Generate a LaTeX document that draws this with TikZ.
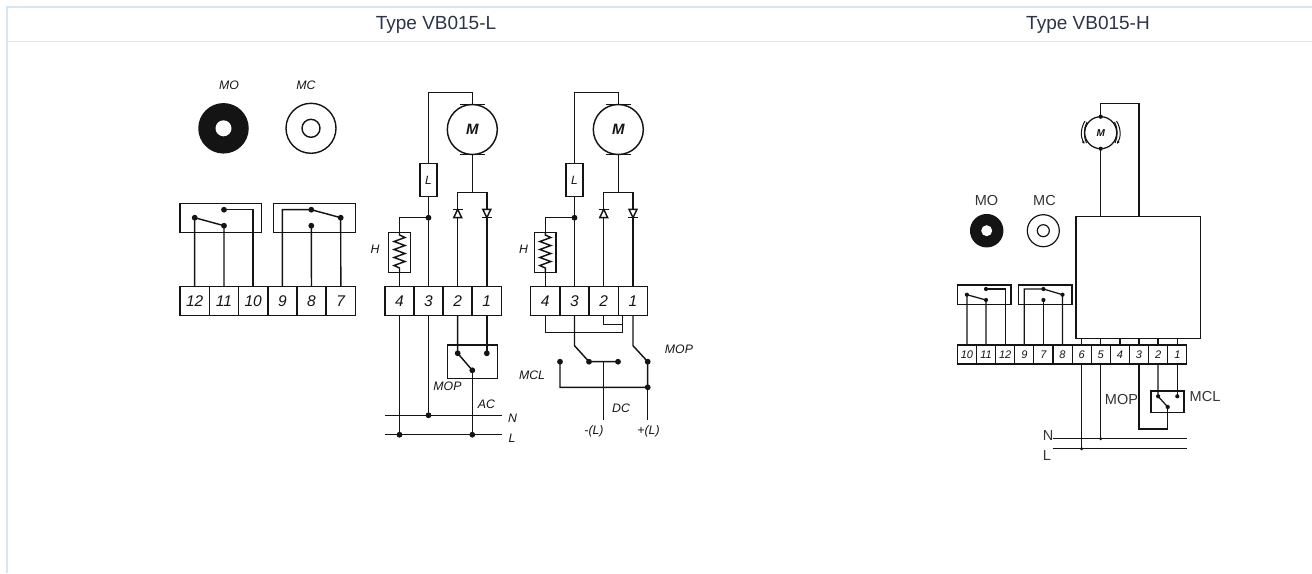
\documentclass[tikz,border=0pt]{standalone}
\usepackage{fontspec}
\usetikzlibrary{arrows.meta}
\setmainfont{Liberation Sans}
\definecolor{ink}{HTML}{141414}
\definecolor{grid}{HTML}{D6E6F3}
\definecolor{gridb}{HTML}{DDE8EE}
\definecolor{head}{HTML}{2B3547}
\definecolor{slabc}{HTML}{333333}
\tikzset{
  wire/.style={line width=1.45pt,draw=ink,line join=miter},
  thin wire/.style={line width=1.25pt,draw=ink},
  dot/.style={circle,fill=ink,inner sep=0pt,minimum size=5.8pt,outer sep=0pt},
  sdot/.style={circle,fill=ink,inner sep=0pt,minimum size=4.2pt,outer sep=0pt},
  term/.style={draw=ink,line width=1.45pt,minimum width=29.2pt,minimum height=29pt,inner sep=0pt,outer sep=0pt,font=\itshape\fontsize{15.5}{16}\selectfont,text=ink},
  sterm/.style={draw=ink,line width=1.1pt,minimum width=19.1pt,minimum height=19pt,inner sep=0pt,outer sep=0pt,font=\itshape\fontsize{11}{11}\selectfont,text=ink},
  box/.style={draw=ink,line width=1.45pt,inner sep=0pt,outer sep=0pt},
  lab/.style={text=ink,inner sep=0pt,font=\itshape\fontsize{12.3}{13}\selectfont},
  slab/.style={text=slabc,inner sep=0pt,font=\fontsize{14.5}{15}\selectfont},
  headlab/.style={text=head,inner sep=0pt,font=\fontsize{19}{20}\selectfont},
  diodeup/.pic={\draw[wire,fill=white] (0,-4.2)--(-4,4.2)--(4,4.2)--cycle; \draw[wire] (-5,-4.2)--(5,-4.2);},
  diodedn/.pic={\draw[wire,fill=white] (0,4.2)--(-4,-4.2)--(4,-4.2)--cycle; \draw[wire] (-5,4.2)--(5,4.2);},
  zig/.pic={\draw[wire] (0,-19)--(0,-17)--(5.5,-14.5)--(-5.5,-10.5)--(5.5,-6.5)--(-5.5,-2.5)--(5.5,1.5)--(-5.5,5.5)--(5.5,9.5)--(-5.5,13.5)--(0,16)--(0,21);},
}
\begin{document}
\begin{tikzpicture}[x=1pt,y=-1pt]
\useasboundingbox (0,0) rectangle (1312,573);
% table frame
\fill[grid] (6,6) rectangle (1312,8);
\fill[grid] (6,6) rectangle (8,573);
\fill[gridb] (8,41) rectangle (1312,42);
\node[headlab] (hl) at (436,25) {Type VB015-L};
\node[headlab] (hh) at (1088,25) {Type VB015-H};

% ---- switch symbols, left
\node[lab] (lmo) at (229,85) {MO};
\node[lab] (lmc) at (306,85) {MC};
\node[circle,fill=ink,minimum size=50.5pt,inner sep=0pt] (mo) at (223.5,128.3) {};
\node[circle,fill=white,minimum size=16pt,inner sep=0pt] (moh) at (223.5,128.3) {};
\node[circle,draw=ink,line width=1.4pt,minimum size=50pt,inner sep=0pt] (mc) at (311,128.3) {};
\node[circle,draw=ink,line width=1.4pt,minimum size=18pt,inner sep=0pt] (mci) at (311,128.3) {};

\node[box,minimum width=81.7pt,minimum height=29pt] (ba) at (220.8,217.8) {};
\node[box,minimum width=82pt,minimum height=29pt] (bb) at (314.7,217.8) {};
\foreach \n/\x in {12/194.7,11/224,10/253.2,9/282.4,8/311.5,7/340.8}
  \node[term] (a\n) at (\x,301.2) {\n};
\node[dot] (c12) at (194.7,217.7) {};
\node[dot] (c11) at (224,225.7) {};
\node[dot] (c10) at (224,209.7) {};
\node[dot] (c9) at (311.3,209.7) {};
\node[dot] (c8) at (311.3,225.7) {};
\node[dot] (c7) at (340.7,217.7) {};
\draw[wire] (a12.north)--(c12.center)--(c11.center)--(a11.north);
\draw[wire] (c10.center)-|(a10.north);
\draw[wire] (a9.north)|-(c9.center)--(c7.center)--(a7.north);
\draw[wire] (c8.center)--(a8.north);

% ---- AC circuit
\foreach \n/\x in {4/399.5,3/428.5,2/457.7,1/486.8}
  \node[term] (b\n) at (\x,301.2) {\n};
\node[circle,draw=ink,line width=1.45pt,minimum size=50pt,inner sep=0pt,outer sep=0pt,font=\itshape\bfseries\fontsize{15}{16}\selectfont,text=ink] (m1) at (472.3,129.5) {M};
\draw[wire] (460,104.7)--(485,104.7);
\draw[wire] (460,154.7)--(485,154.7);
\node[box,minimum width=17pt,minimum height=33.4pt,font=\itshape\fontsize{12}{13}\selectfont,text=ink] (l1) at (428.5,180) {L};
\node[box,minimum width=21.7pt,minimum height=40pt] (h1) at (399.5,252.3) {};
\pic at (399.5,252) {zig};
\node[dot] (j1) at (428.5,217.7) {};
\coordinate (tp1) at (472.3,92.7);
\coordinate (br1) at (472.3,192.7);
\draw[wire] (472.3,104.7)--(tp1)-|(l1.north);
\draw[wire] (l1.south)--(b3.north);
\draw[wire] (j1.center)-|(h1.north);
\draw[wire] (h1.south)--(b4.north);
\draw[wire] (m1.south)--(br1);
\draw[wire] (b2.north)|-(br1)-|(b1.north);
\pic at (457.7,213.5) {diodeup};
\pic at (486.8,213.5) {diodedn};
\node[lab] (lh1) at (375,249) {H};
% lower part
\node[box,minimum width=50pt,minimum height=33.7pt] (s1) at (472.3,361.8) {};
\node[dot] (d2) at (457.7,353.3) {};
\node[dot] (d1) at (486.8,353.3) {};
\node[dot] (d0) at (472.3,370.3) {};
\draw[wire] (b2.south)--(d2.center)--(d0.center);
\draw[wire] (b1.south)--(d1.center);
\coordinate (nl) at (385,415.3); \coordinate (nr) at (501.5,415.3);
\coordinate (ll) at (385,434.7); \coordinate (lr) at (501.5,434.7);
\draw[thin wire] (nl)--(nr);
\draw[thin wire] (ll)--(lr);
\node[dot] (jn) at (428.5,415.3) {};
\node[dot] (jl4) at (399.5,434.7) {};
\node[dot] (jl0) at (472.3,434.7) {};
\draw[wire] (b4.south)--(jl4.center);
\draw[wire] (b3.south)--(jn.center);
\draw[wire] (d0.center)--(jl0.center);
\node[lab] (lmop1) at (447.5,386.5) {MOP};
\node[lab] (lac) at (486.5,404) {AC};
\node[lab] (ln1) at (512.5,418) {N};
\node[lab] (ll1) at (512,438) {L};

% ---- DC circuit
\foreach \n/\x in {4/545.3,3/574.5,2/603.7,1/633}
  \node[term] (e\n) at (\x,301.2) {\n};
\node[circle,draw=ink,line width=1.45pt,minimum size=50pt,inner sep=0pt,outer sep=0pt,font=\itshape\bfseries\fontsize{15}{16}\selectfont,text=ink] (m2) at (618.3,129.5) {M};
\draw[wire] (605.7,104.7)--(630.7,104.7);
\draw[wire] (605.7,154.7)--(630.7,154.7);
\node[box,minimum width=16.7pt,minimum height=33.4pt,font=\itshape\fontsize{12}{13}\selectfont,text=ink] (l2) at (574.5,180) {L};
\node[box,minimum width=21.3pt,minimum height=40pt] (h2) at (545.3,252.3) {};
\pic at (545.3,252) {zig};
\node[dot] (j2) at (574.5,217.7) {};
\coordinate (tp2) at (618.3,92.7);
\coordinate (br2) at (618.3,192.7);
\draw[wire] (618.3,104.7)--(tp2)-|(l2.north);
\draw[wire] (l2.south)--(e3.north);
\draw[wire] (j2.center)-|(h2.north);
\draw[wire] (h2.south)--(e4.north);
\draw[wire] (m2.south)--(br2);
\draw[wire] (e2.north)|-(br2)-|(e1.north);
\pic at (603.7,213.5) {diodeup};
\pic at (633,213.5) {diodedn};
\node[lab] (lh2) at (523.5,249) {H};
% lower part
\coordinate (q1) at (622.3,315.7);
\coordinate (q2) at (622.3,332.7);
\coordinate (q3) at (622.3,324.7);
\draw[wire] (e4.south)|-(q2)--(q1);
\draw[wire] (e2.south)|-(q3);
\coordinate (k3) at (574.5,345.7);
\coordinate (k1) at (633,345.7);
\node[dot] (s3) at (589,361.7) {};
\node[dot] (s4) at (618,361.7) {};
\node[dot] (s5) at (560,361.7) {};
\node[dot] (s1a) at (647.7,361.7) {};
\node[dot] (s6) at (647.7,387.3) {};
\draw[wire] (e3.south)--(k3)--(s3.center)--(s4.center);
\draw[wire] (e1.south)--(k1)--(s1a.center)--(s6.center)--(s5.center |- s6.center)--(s5.center);
\coordinate (pm) at (603.7,361.7);
\coordinate (pme) at (603.7,420);
\coordinate (ppe) at (647.7,420);
\draw[wire] (pm)--(pme);
\draw[wire] (s6.center)--(ppe);
\node[lab] (lmop2) at (679,349.5) {MOP};
\node[lab] (lmcl) at (532,375) {MCL};
\node[lab] (ldc) at (621,408.5) {DC};
\node[lab] (lm) at (594,431) {-(L)};
\node[lab] (lp) at (648.5,431) {+(L)};

% ---- right diagram
\node[slab] (rmo) at (986.5,201) {MO};
\node[slab] (rmc) at (1044.5,201) {MC};
\node[circle,fill=ink,minimum size=33.5pt,inner sep=0pt] (mo2) at (986.7,230.7) {};
\node[circle,fill=white,minimum size=11pt,inner sep=0pt] (mo2h) at (986.7,230.7) {};
\node[circle,draw=ink,line width=1.2pt,minimum size=32pt,inner sep=0pt] (mc2) at (1043.3,230.7) {};
\node[circle,draw=ink,line width=1.2pt,minimum size=12pt,inner sep=0pt] (mc2i) at (1043.3,230.7) {};
\node[circle,draw=ink,line width=1.25pt,minimum size=32pt,inner sep=0pt,outer sep=0pt,font=\itshape\bfseries\fontsize{10}{10}\selectfont,text=ink] (m3) at (1100.7,132.7) {M};
\node[sdot] (mt) at (1100.7,116.7) {};
\node[sdot] (mb) at (1100.7,148.7) {};
\draw[thin wire,line width=1pt,-{Latex[length=3pt,width=3pt]}] (1085,121)..controls (1080.5,128) and (1080.5,137)..(1084.5,144);
\draw[thin wire,line width=1pt] (1087,122)..controls (1083.5,128) and (1083.5,137)..(1086.5,143);
\draw[thin wire,line width=1pt,-{Latex[length=3pt,width=3pt]}] (1116.5,121)..controls (1121,128) and (1121,137)..(1117,144);
\draw[thin wire,line width=1pt] (1114.5,122)..controls (1118,128) and (1118,137)..(1115,143);
\node[box,line width=1.3pt,minimum width=124.3pt,minimum height=121.6pt] (big) at (1138.2,277.5) {};
\coordinate (rt) at (1100.7,103.7);
\draw[thin wire] (mb.center)--(big.north -| mb.center);
\coordinate (brt) at (1139,216.7);
\draw[thin wire] (mt.center)--(rt)-|(brt);

\node[box,line width=1.2pt,minimum width=53.7pt,minimum height=19.3pt] (ra) at (984.2,294.7) {};
\node[box,line width=1.2pt,minimum width=53.3pt,minimum height=19.3pt] (rb) at (1045.4,294.7) {};
\foreach \n/\lbl/\x in {t10/10/966.9,t11/11/986,t12/12/1005.2,t9/9/1024.3,t7/7/1043.4,t8/8/1062.5,t6/6/1081.6,t5/5/1100.7,t4/4/1119.9,t3/3/1139,t2/2/1158.1,t1/1/1177.3}
  \node[sterm] (\n) at (\x,354.5) {\lbl};
\node[sdot] (p10) at (966.9,294.7) {};
\node[sdot] (p11) at (986,300) {};
\node[sdot] (p12) at (986,289) {};
\node[sdot] (p9) at (1043.4,289) {};
\node[sdot] (p7) at (1043.4,300) {};
\node[sdot] (p8) at (1062.5,294.7) {};
\draw[thin wire] (t10.north)--(p10.center)--(p11.center)--(t11.north);
\draw[thin wire] (p12.center)-|(t12.north);
\draw[thin wire] (t9.north)|-(p9.center)--(p8.center)--(t8.north);
\draw[thin wire] (p7.center)--(t7.north);
\foreach \n in {t6,t5,t4,t3,t2,t1}
  \draw[thin wire] (\n.north)--(\n.north |- big.south);
\coordinate (rnl) at (1052.7,438.7); \coordinate (rnr) at (1187,438.7);
\coordinate (rll) at (1052.7,448.7); \coordinate (rlr) at (1187,448.7);
\draw[thin wire] (rnl)--(rnr);
\draw[thin wire] (rll)--(rlr);
\node[sdot,minimum size=3.4pt] (jr5) at (1100.7,438.7) {};
\node[sdot,minimum size=3.4pt] (jr6) at (1081.6,448.7) {};
\draw[thin wire] (t6.south)--(jr6.center);
\draw[thin wire] (t5.south)--(jr5.center);
\node[box,line width=1.2pt,minimum width=33pt,minimum height=21.7pt] (rs) at (1167.5,401.8) {};
\node[sdot] (q2a) at (1158.1,396.3) {};
\node[sdot] (q1a) at (1177.3,396.3) {};
\node[sdot] (q0a) at (1167.7,407) {};
\draw[thin wire] (t2.south)--(q2a.center)--(q0a.center);
\draw[thin wire] (t1.south)--(q1a.center);
\coordinate (rb3) at (1139,429);
\draw[thin wire] (t3.south)--(rb3)-|(q0a.center);
\node[slab] (rmop) at (1121.5,399.5) {MOP};
\node[slab] (rmcl) at (1205,396.5) {MCL};
\node[slab] (rn) at (1048,436) {N};
\node[slab] (rl) at (1047,456) {L};
\end{tikzpicture}
\end{document}
